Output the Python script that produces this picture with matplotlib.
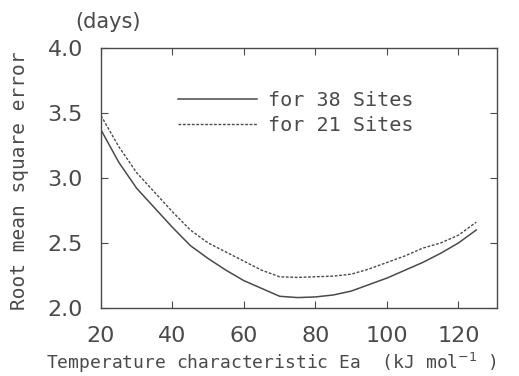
import numpy as np
import matplotlib.pyplot as plt

# activation energy Ea (kJ/mol)
ea = [20, 25, 30, 35, 40, 45, 50, 55, 60, 65, 70, 75, 80, 85, 90, 95, 100, 105, 110, 115, 120, 125]
# RMSE (days)
rmse_38 = [3.37, 3.12, 2.92, 2.77, 2.62, 2.48, 2.38, 2.29, 2.21, 2.15, 2.09, 2.08, 2.085, 2.10, 2.13, 2.18,
           2.23, 2.29, 2.35, 2.42, 2.50, 2.60]
rmse_21 = [3.48, 3.24, 3.04, 2.89, 2.74, 2.60, 2.50, 2.43, 2.36, 2.29, 2.24, 2.235, 2.24, 2.245, 2.26, 2.30,
           2.35, 2.40, 2.46, 2.50, 2.56, 2.66]

labels = ['for 38 Sites', 'for 21 Sites']
xticks = [20, 40, 60, 80, 100, 120]
yticks = [2.0, 2.5, 3.0, 3.5, 4.0]

ink = '#4a4a4a'
mono = 'DejaVu Sans Mono'

fig = plt.figure(figsize=(5.19, 3.76), dpi=100)
ax = fig.add_axes([0.1946, 0.1809, 0.763, 0.6914])

ax.plot(ea, rmse_38, color=ink, lw=1.1, label=labels[0])
ax.plot(ea, rmse_21, color=ink, lw=1.0, ls=(0, (2, 1.2)), label=labels[1])

ax.set_xlim(20, 130.8)
ax.set_ylim(2.0, 4.0)
ax.set_xticks(xticks)
ax.set_yticks(yticks)
ax.set_yticklabels(['%.1f' % v for v in yticks])
ax.tick_params(direction='in', length=5, width=0.8, color=ink, labelcolor=ink,
               labelsize=16, top=True, right=True, pad=13)
for sp in ax.spines.values():
    sp.set_color(ink)
    sp.set_linewidth(1.0)

ax.set_xlabel('Temperature characteristic Ea  (kJ mol$^{-1}$ )', fontsize=13, color=ink,
              family=mono)
ax.xaxis.set_label_coords(0.43, -0.165)
ax.set_ylabel('Root mean square error', fontsize=14, color=ink, family=mono)
ax.yaxis.set_label_coords(-0.182, 0.49)
fig.text(0.208, 0.942, '(days)', fontsize=15, color=ink, ha='center', va='center')

ax.legend(loc='upper left', bbox_to_anchor=(0.17, 0.875), frameon=False,
          prop={'family': mono, 'size': 14.5}, labelcolor=ink,
          handlelength=3.9, handletextpad=0.55, labelspacing=0.3, borderpad=0)

fig.savefig('out.png', dpi=100)
